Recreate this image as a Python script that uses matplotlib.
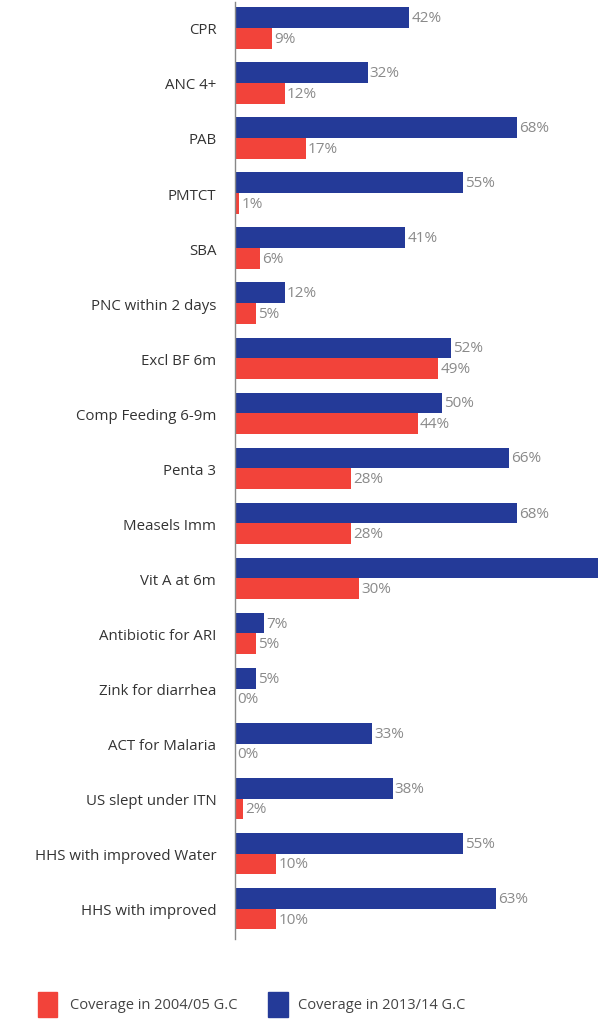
import matplotlib

matplotlib.use("Agg")
import matplotlib.pyplot as plt
from matplotlib.patches import Rectangle
import numpy as np

categories = [
    "CPR", "ANC 4+", "PAB", "PMTCT", "SBA", "PNC within 2 days",
    "Excl BF 6m", "Comp Feeding 6-9m", "Penta 3", "Measels Imm",
    "Vit A at 6m", "Antibiotic for ARI", "Zink for diarrhea",
    "ACT for Malaria", "US slept under ITN", "HHS with improved Water",
    "HHS with improved",
]
coverage_2013 = [42, 32, 68, 55, 41, 12, 52, 50, 66, 68, 88, 7, 5, 33, 38, 55, 63]
coverage_2004 = [9, 12, 17, 1, 6, 5, 49, 44, 28, 28, 30, 5, 0, 0, 2, 10, 10]
legend_labels = ["Coverage in 2004/05 G.C", "Coverage in 2013/14 G.C"]

RED = "#f2433a"
BLUE = "#243a98"
X_MAX = 87.5

plt.rcParams["font.family"] = ["Open Sans", "DejaVu Sans"]

W, H = 598, 1020
fig = plt.figure(figsize=(W / 100, H / 100), dpi=100)
ax = fig.add_axes([235 / W, (H - 940) / H, (W - 235) / W, 937 / H])

y = np.arange(len(categories))
bar_h = 0.375
ax.barh(y - bar_h / 2, coverage_2013, height=bar_h, color=BLUE)
ax.barh(y + bar_h / 2, coverage_2004, height=bar_h, color=RED)

for i, (b, r) in enumerate(zip(coverage_2013, coverage_2004)):
    # the Vit A bar runs past the edge, so its label is off the picture
    if b + 6 < X_MAX:
        ax.text(b + 0.5, i - bar_h / 2, f"{b}%", va="center", ha="left",
                fontsize=11, color="#8a8a8a")
    ax.text(r + 0.5, i + bar_h / 2, f"{r}%", va="center", ha="left",
            fontsize=11, color="#8a8a8a")

ax.set_xlim(0, X_MAX)
ax.set_ylim(len(categories) - 0.45, -0.47)
ax.set_yticks(y)
ax.set_yticklabels(categories, fontsize=10.8, color="#333333")
ax.tick_params(axis="y", length=0, pad=13.5)
ax.set_xticks([])
for side in ("top", "right", "bottom"):
    ax.spines[side].set_visible(False)
ax.spines["left"].set_color("#888888")
ax.spines["left"].set_linewidth(1)

# legend along the bottom
for (x0, x1), colour, label, tx in zip(((38, 57), (268, 288)), (RED, BLUE),
                                       legend_labels, (70, 298)):
    fig.patches.append(Rectangle((x0 / W, (H - 1018) / H), (x1 - x0) / W, 25 / H,
                                 transform=fig.transFigure, color=colour))
    fig.text(tx / W, (H - 1006) / H, label, fontsize=10.5, color="#444444", va="center")

fig.savefig("out.png", dpi=100)
